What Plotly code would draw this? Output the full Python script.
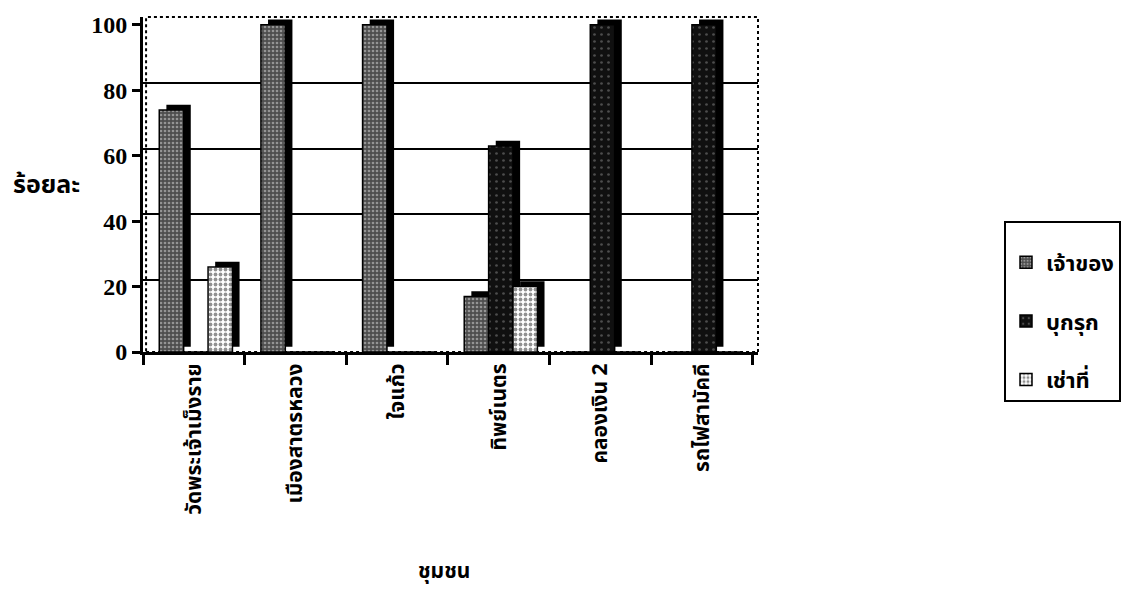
import plotly.graph_objects as go

# Communities (x categories) and land-tenure shares in percent
communities = ["วัดพระเจ้าเม็งราย", "เมืองสาตรหลวง", "ใจแก้ว", "ทิพย์เนตร", "คลองเงิน 2", "รถไฟสามัคคี"]
owner = [74, 100, 100, 17, 0, 0]        # เจ้าของ
encroach = [0, 0, 0, 63, 100, 100]      # บุกรุก
rent = [26, 0, 0, 20, 0, 0]             # เช่าที่

series_names = ["เจ้าของ", "บุกรุก", "เช่าที่"]
y_ticks = [0, 20, 40, 60, 80, 100]

THAI = "Noto Sans Thai, Tahoma, DejaVu Sans, sans-serif"
SERIF = "Liberation Serif, Times New Roman, serif"

BAR_W = 0.24
DEPTH_X = 0.07   # horizontal depth of the pseudo-3D side face (category units)
DEPTH_Y = 1.6    # vertical depth of the pseudo-3D side face (value units)

styles = [
    dict(bg="#4e4e4e", fg="#dcdcdc", size=4, solidity=0.35),
    dict(bg="#101010", fg="#8a8a8a", size=7, solidity=0.12),
    dict(bg="#ffffff", fg="#222222", size=5, solidity=0.45),
]
offsets = [-0.34, -0.10, 0.14]

fig = go.Figure()

for vals, name, st, off in zip([owner, encroach, rent], series_names, styles, offsets):
    # dark side/top face drawn behind the front face
    fig.add_trace(go.Bar(
        x=communities, y=vals, base=DEPTH_Y, offset=off + DEPTH_X, width=BAR_W,
        marker=dict(color="black", line=dict(width=0)),
        showlegend=False, hoverinfo="skip", legendgroup=name,
    ))
    fig.add_trace(go.Bar(
        x=communities, y=vals, offset=off, width=BAR_W, name=name, legendgroup=name,
        marker=dict(
            color=st["bg"],
            line=dict(color="black", width=1.5),
            pattern=dict(shape=".", bgcolor=st["bg"], fgcolor=st["fg"],
                         size=st["size"], solidity=st["solidity"], fillmode="overlay"),
        ),
    ))

# Back-wall gridlines, lifted slightly relative to the front value axis
fig.add_trace(go.Scatter(x=[communities[0]], y=[None], yaxis="y2", showlegend=False,
                         hoverinfo="skip"))

fig.update_layout(
    width=1123, height=596,
    margin=dict(l=143, r=365, t=17, b=244, autoexpand=False),
    paper_bgcolor="white", plot_bgcolor="white",
    barmode="overlay",
    font=dict(family=THAI, color="black"),
    xaxis=dict(
        type="category", range=[-0.5, 5.55], tickson="boundaries",
        ticks="outside", ticklen=10, tickwidth=3, tickcolor="black",
        showline=True, linecolor="black", linewidth=3,
        tickangle=-90, tickfont=dict(family=THAI, size=21, color="black", weight="bold"),
        showgrid=False, zeroline=False,
    ),
    yaxis=dict(
        range=[0, 102.4], tickvals=y_ticks, ticks="outside", ticklen=8, tickwidth=3,
        tickcolor="black", showline=True, linecolor="black", linewidth=3,
        tickfont=dict(family=SERIF, size=24, color="black", weight="bold"),
        showgrid=False, zeroline=False,
    ),
    yaxis2=dict(
        overlaying="y", range=[-2.1, 100.3], tickvals=y_ticks[1:],
        showgrid=True, gridcolor="black", gridwidth=2, showticklabels=False,
        zeroline=False, showline=False, layer="below traces",
    ),
    legend=dict(
        x=1.40, y=0.39, xanchor="left", yanchor="top",
        bordercolor="black", borderwidth=2, bgcolor="white",
        font=dict(family=THAI, size=22, color="black", weight="bold"),
        title=dict(text=" ", font=dict(size=14)),
        traceorder="grouped", tracegroupgap=27, itemwidth=30,
    ),
    shapes=[dict(type="rect", xref="paper", yref="paper", x0=0.005, x1=1.0, y0=0, y1=1,
                 line=dict(color="black", width=2, dash="dot"), layer="below")],
    annotations=[
        dict(text="<b>ร้อยละ</b>", xref="paper", yref="paper", x=-0.157, y=0.50,
             xanchor="center", yanchor="middle",
             showarrow=False, font=dict(family=THAI, size=25)),
        dict(text="<b>ชุมชน</b>", xref="paper", yref="paper", x=0.49, y=-0.655,
             xanchor="center", yanchor="middle",
             showarrow=False, font=dict(family=THAI, size=21)),
    ],
)

fig.write_html("out.html")
